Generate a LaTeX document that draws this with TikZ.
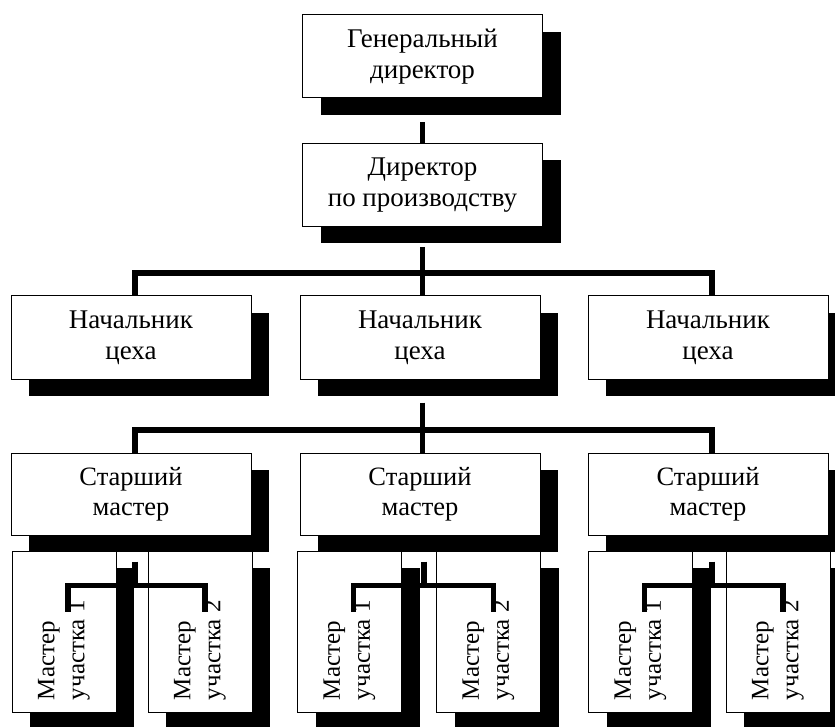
\documentclass[tikz,border=0pt]{standalone}
\usepackage{fontspec}
\setmainfont{Liberation Serif}
\usepackage{graphicx}
\usetikzlibrary{calc, shadows}

\newcommand{\mastertext}[1]{\rotatebox{90}{\parbox{137pt}{\raggedright Мастер\\участка #1}}}

\begin{document}
\begin{tikzpicture}[x=1pt, y=-1pt,
        box/.style  = {draw, fill=white, line width=1pt, inner sep=0pt, align=center,
                       drop shadow={shadow xshift=18pt, shadow yshift=-17pt, fill=black, opacity=1}},
        wide/.style = {box, minimum width=240pt, minimum height=83pt, font=\fontsize{27}{31}\selectfont},
        tall/.style = {box, minimum width=104pt, minimum height=161pt, font=\fontsize{25}{30}\selectfont},
        conn/.style = {line width=5.5pt}
    ]
    \useasboundingbox (0,0) rectangle (835,727);
    \clip (0,0) rectangle (835,727);

    \node[wide] (gd) at (422.5,56.5) {Генеральный\\директор};
    \node[wide] (dp) at (422.5,185)  {Директор\\по производству};

    \foreach \i/\x in {1/131, 2/420, 3/708} {
        \node[wide] (nc\i) at (\x,337.5) {Начальник\\цеха};
        \node[wide, minimum height=82pt, font=\fontsize{26.5}{30}\selectfont] (sm\i) at (\x,494) {Старший\\мастер};
    }

    \foreach \i/\xa/\xb in {1/64/200, 2/349.5/488.5, 3/640.5/778} {
        \node[tall] (m\i-a) at (\xa,631.5) {\mastertext{1}};
        \node[tall] (m\i-b) at (\xb,631.5) {\mastertext{2}};
    }

    \coordinate (b1) at (422.5,273);
    \coordinate (b2) at (422.5,430);

    \draw[conn] ($(gd.south)+(0,24)$) -- (dp.north);
    \draw[conn] ($(dp.south)+(0,20)$) -- (b1);
    \draw[conn] ($(nc1.north)+(4,0)$) |- (b1) -| ($(nc3.north)+(4,0)$);
    \draw[conn] (b1) -- (b1 |- nc2.north);

    \draw[conn] ($(nc2.south -| b2)+(0,23)$) -- (b2);
    \draw[conn] ($(sm1.north)+(4,0)$) |- (b2) -| ($(sm3.north)+(4,0)$);
    \draw[conn] (b2) -- (b2 |- sm2.north);

    \foreach \i in {1,2,3} {
        \draw[conn] ($(sm\i.south)+(4,26)$) -- ($(sm\i.south)+(4,50)$);
        \draw[conn] ($(m\i-a.north)+(4,61)$) |- ($(sm\i.south)+(4,50)$) -| ($(m\i-b.north)+(5,61)$);
    }
\end{tikzpicture}
\end{document}
